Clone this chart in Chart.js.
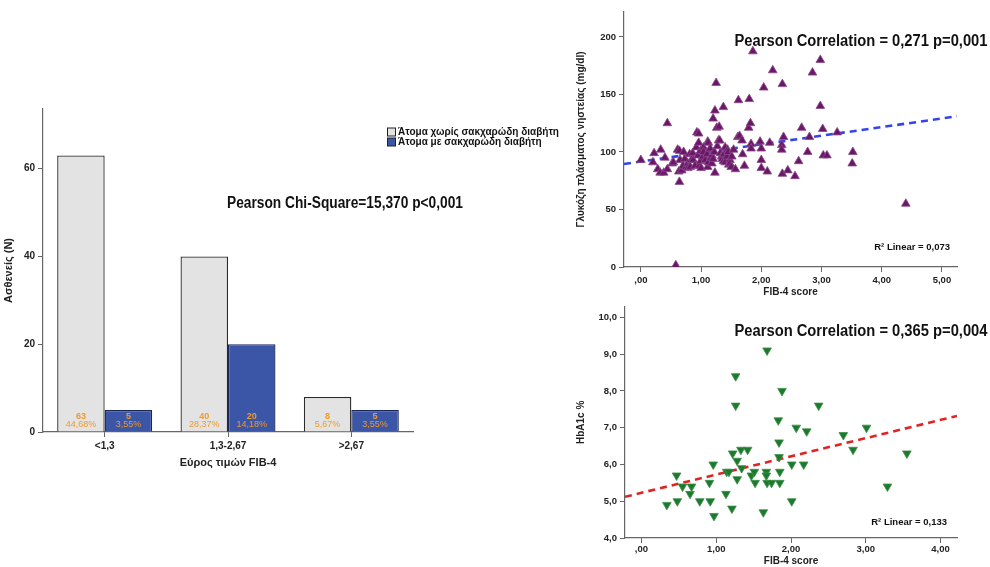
<!DOCTYPE html>
<html>
<head>
<meta charset="utf-8">
<script src="https://cdn.jsdelivr.net/npm/chart.js@4.4.0/dist/chart.umd.min.js"></script>
<style>
body { margin: 0; background: #fff; width: 990px; height: 567px; position: relative; overflow: hidden; }
.box { position: absolute; }
</style>
</head>
<body>
<div class="box" style="left:0;top:100px;width:575px;height:380px"><canvas id="bars"></canvas></div>
<div class="box" style="left:575px;top:0;width:415px;height:300px"><canvas id="glu"></canvas></div>
<div class="box" style="left:575px;top:298px;width:415px;height:269px"><canvas id="hba"></canvas></div>
<script>
// bar chart: FIB-4 ranges
const ranges = ['<1,3', '1,3-2,67', '>2,67'];
const noDiabetes = [63, 40, 8];
const withDiabetes = [5, 20, 5];
const noDiabetesPct = ['44,68%', '28,37%', '5,67%'];
const withDiabetesPct = ['3,55%', '14,18%', '3,55%'];

// scatter 1: FIB-4 vs fasting glucose
const gluFib = [0.00,0.20,0.22,0.28,0.32,0.33,0.38,0.40,0.44,0.44,0.52,0.54,0.58,0.61,0.64,0.64,0.65,0.63,0.68,0.70,
  0.71,0.73,0.75,0.78,0.78,0.81,0.82,0.84,0.86,0.87,0.90,0.92,0.93,0.95,0.96,0.96,0.97,0.99,0.99,1.00,
  1.03,1.04,1.04,1.07,1.10,1.11,1.11,1.12,1.12,1.15,1.16,1.18,1.18,1.20,1.20,1.22,1.23,1.23,1.25,1.26,
  1.27,1.29,1.30,1.31,1.32,1.34,1.35,1.37,1.37,1.38,1.40,1.40,1.43,1.44,1.45,1.46,1.48,1.48,1.50,1.51,
  1.54,1.57,1.61,1.62,1.64,1.68,1.69,1.72,1.79,1.80,1.82,1.83,1.83,1.86,1.98,2.00,2.00,2.00,2.04,2.10,
  2.14,2.19,2.34,2.35,2.34,2.35,2.37,2.44,2.56,2.62,2.67,2.77,2.80,2.85,2.98,2.98,3.02,3.03,3.09,3.26,
  3.51,3.52,4.40];
const gluVal = [93,91,99,85,82,102,82,95,125,85,90,91,1.5,102,101,74,93,83,84,88,
  100,94,87,90,86,98,87,93,99,93,88,104,117,97,116,108,88,101,92,86,
  96,104,100,93,98,87,109,108,91,103,95,90,97,129,94,100,136,82,160,121,
  105,110,122,110,99,96,94,139,92,98,91,104,96,102,100,89,93,90,87,96,
  102,85,113,145,114,110,98,88,121,146,125,107,103,187.5,109,103,93,86,156,83,
  108,171,106,159,102,81,113,84,79,92,121,100,113,169,180,140,120,97,97,117,
  90,100,55];
const gluFitX = [-0.28, 5.25];
const gluFitY = [89.6, 131];

// scatter 2: FIB-4 vs HbA1c
const hbaFib = [0.34,0.47,0.48,0.55,0.65,0.67,0.78,0.91,0.92,0.96,0.97,1.13,1.14,1.17,1.21,1.22,1.26,1.26,1.28,1.28,
  1.33,1.34,1.42,1.47,1.51,1.52,1.63,1.67,1.67,1.68,1.68,1.74,1.83,1.84,1.84,1.85,1.85,1.88,2.01,2.01,
  2.07,2.17,2.21,2.37,2.70,2.83,3.01,3.29,3.55];
const hbaVal = [4.9,5.7,5.0,5.4,5.2,5.4,5.0,5.5,5.0,6.0,4.6,5.2,5.8,5.8,4.8,6.3,8.4,7.6,5.6,6.1,
  6.4,5.9,6.4,5.7,5.8,5.5,4.7,5.8,5.7,9.1,5.5,5.5,7.2,6.6,6.2,5.8,5.5,8.0,6.0,5.0,
  7.0,6.0,6.9,7.6,6.8,6.4,7.0,5.4,6.3];
const hbaFitX = [-0.22, 4.22];
const hbaFitY = [5.12, 7.32];

Chart.defaults.font.family = '"Liberation Sans", Arial, sans-serif';
Chart.defaults.color = '#222';
Chart.defaults.animation = false;

const axisGrey = '#666';
const pts = (xs, ys) => xs.map((x, i) => ({ x: x, y: ys[i] }));
const comma = (v, d) => v.toFixed(d).replace('.', ',');

function axis(extra, fitSize, vertical) {
  return Object.assign({
    grid: { drawOnChartArea: false, drawTicks: true, tickLength: 5, color: axisGrey, offset: false },
    border: { display: true, color: axisGrey, width: 1.2 },
    afterFit: s => { if (vertical) s.width = fitSize; else s.height = fitSize; }
  }, extra);
}

function notes(list) {
  return {
    id: 'notes',
    afterDraw(chart) {
      const ctx = chart.ctx;
      ctx.save();
      ctx.fillStyle = '#111';
      ctx.textBaseline = 'middle';
      list.forEach(n => {
        ctx.font = n.font;
        ctx.textAlign = n.align || 'left';
        ctx.fillText(n.text, n.x, n.y, n.maxWidth);
      });
      ctx.restore();
    }
  };
}

const barLabels = {
  id: 'barLabels',
  afterDatasetsDraw(chart) {
    const ctx = chart.ctx;
    const pct = [noDiabetesPct, withDiabetesPct];
    ctx.save();
    ctx.fillStyle = '#ef9a2c';
    ctx.textAlign = 'center';
    ctx.textBaseline = 'middle';
    chart.data.datasets.forEach((ds, di) => {
      chart.getDatasetMeta(di).data.forEach((el, i) => {
        ctx.font = 'bold 9px "Liberation Sans", Arial';
        ctx.fillText(String(ds.data[i]), el.x, el.base - 15);
        ctx.font = '9px "Liberation Sans", Arial';
        ctx.fillText(pct[di][i], el.x, el.base - 7);
      });
    });
    ctx.restore();
  }
};

const boxLegend = {
  id: 'boxLegend',
  afterDraw(chart) {
    const ctx = chart.ctx;
    ctx.save();
    ctx.font = 'bold 10px "Liberation Sans", Arial';
    ctx.textBaseline = 'middle';
    chart.data.datasets.forEach((ds, i) => {
      const y = 32 + i * 10;
      ctx.fillStyle = ds.backgroundColor;
      ctx.strokeStyle = '#222';
      ctx.lineWidth = 1;
      ctx.fillRect(387.5, y - 4, 8, 8);
      ctx.strokeRect(387.5, y - 4, 8, 8);
      ctx.fillStyle = '#111';
      ctx.fillText(ds.label, 398, y + 0.5);
    });
    ctx.restore();
  }
};

new Chart(document.getElementById('bars'), {
  type: 'bar',
  data: {
    labels: ranges,
    datasets: [
      { label: 'Άτομα χωρίς σακχαρώδη διαβήτη', data: noDiabetes, backgroundColor: '#e3e3e3', borderColor: '#2a2a2a', borderWidth: 1.3 },
      { label: 'Άτομα με σακχαρώδη διαβήτη', data: withDiabetes, backgroundColor: '#3b55a7', borderColor: '#1b2659', borderWidth: 1.3 }
    ]
  },
  options: {
    responsive: true,
    maintainAspectRatio: false,
    layout: { padding: { top: 7, right: 162, left: 0, bottom: 0 } },
    barPercentage: 1,
    categoryPercentage: 0.77,
    plugins: { legend: { display: false }, tooltip: { enabled: false } },
    scales: {
      x: axis({
        ticks: { font: { size: 10, weight: 'bold' }, padding: 3 },
        title: { display: true, text: 'Εύρος τιμών FIB-4', font: { size: 11, weight: 'bold' }, padding: { top: 2, bottom: 10 } }
      }, 48, false),
      y: axis({
        min: 0, max: 73.6,
        ticks: { stepSize: 20, includeBounds: false, font: { size: 10, weight: 'bold' }, padding: 3 },
        title: { display: true, text: 'Ασθενείς (Ν)', font: { size: 11, weight: 'bold' }, padding: { top: 2, bottom: 4 } }
      }, 43, true)
    }
  },
  plugins: [barLabels, boxLegend, notes([
    { text: 'Pearson Chi-Square=15,370 p<0,001', x: 345, y: 104, font: 'bold 16px "Liberation Sans", Arial', align: 'center', maxWidth: 236 }
  ])]
});

function scatterChart(id, xs, ys, fx, fy, opt) {
  return new Chart(document.getElementById(id), {
    type: 'scatter',
    data: {
      datasets: [
        { data: pts(xs, ys), pointStyle: 'triangle', rotation: opt.rot, pointRadius: 5, backgroundColor: opt.color, borderColor: opt.edge, borderWidth: 0.8 },
        { type: 'line', data: pts(fx, fy), showLine: true, pointRadius: 0, borderColor: opt.fit, borderWidth: 2.6, borderDash: [7, 5], fill: false }
      ]
    },
    options: {
      responsive: true,
      maintainAspectRatio: false,
      layout: { padding: { top: opt.top, right: 33, left: 0, bottom: 0 } },
      plugins: { legend: { display: false }, tooltip: { enabled: false } },
      scales: {
        x: axis({
          type: 'linear', min: fx[0], max: fx[1],
          ticks: { stepSize: 1, includeBounds: false, font: { size: 9.5, weight: 'bold' }, padding: opt.tickPad,
            callback: v => v === 0 ? ',00' : comma(v, 2) },
          title: { display: true, text: 'FIB-4 score', font: { size: 10, weight: 'bold' }, padding: { top: 0, bottom: opt.titlePad } }
        }, opt.xh, false),
        y: axis({
          min: opt.ymin, max: opt.ymax,
          ticks: { stepSize: opt.step, includeBounds: false, font: { size: 9.5, weight: 'bold' }, padding: 3,
            callback: v => opt.yd ? comma(v, opt.yd) : String(v) },
          title: { display: true, text: opt.ytitle, font: { size: 10, weight: 'bold' }, padding: { top: 0, bottom: 4 } }
        }, opt.yw, true)
      }
    },
    plugins: [notes(opt.notes)]
  });
}

scatterChart('glu', gluFib, gluVal, gluFitX, gluFitY, {
  rot: 0, color: '#6b1769', edge: '#8a4a88', fit: '#3345ea', top: 12,
  ymin: 0, ymax: 221.7, step: 50, yd: 0, yw: 49, xh: 33, tickPad: 3, titlePad: 2,
  ytitle: 'Γλυκόζη πλάσματος νηστείας (mg/dl)',
  notes: [
    { text: 'Pearson Correlation = 0,271 p=0,001', x: 286, y: 42, font: 'bold 16px "Liberation Sans", Arial', align: 'center', maxWidth: 253 },
    { text: 'R² Linear = 0,073', x: 375, y: 247, font: 'bold 9.5px "Liberation Sans", Arial', align: 'right' }
  ]
});

scatterChart('hba', hbaFib, hbaVal, hbaFitX, hbaFitY, {
  rot: 180, color: '#1c7a2c', edge: '#3d8f4a', fit: '#e02424', top: 7,
  ymin: 4, ymax: 10.29, step: 1, yd: 1, yw: 50, xh: 29, tickPad: 1, titlePad: 0,
  ytitle: 'HbA1c %',
  notes: [
    { text: 'Pearson Correlation = 0,365 p=0,004', x: 286, y: 34, font: 'bold 16px "Liberation Sans", Arial', align: 'center', maxWidth: 253 },
    { text: 'R² Linear = 0,133', x: 372, y: 224, font: 'bold 9.5px "Liberation Sans", Arial', align: 'right' }
  ]
});
</script>
</body>
</html>
